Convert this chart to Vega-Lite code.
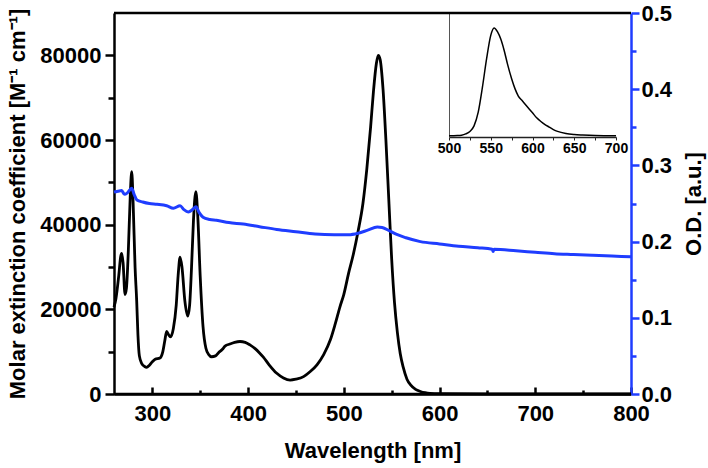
{
  "$schema": "https://vega.github.io/schema/vega-lite/v6.json",
  "width": 517,
  "height": 381,
  "autosize": "none",
  "padding": {"left": 114, "top": 13, "right": 77, "bottom": 74},
  "background": "white",
  "config": {
    "view": {"stroke": null},
    "axis": {"grid": false, "labelFont": "Liberation Sans", "titleFont": "Liberation Sans", "labelFontWeight": "bold", "titleFontWeight": "bold", "labelColor": "black", "titleColor": "black"}
  },
  "datasets": {
    "abs": [
      {"wl": 260, "eps": 20500}, {"wl": 262, "eps": 22500}, {"wl": 265, "eps": 28000}, {"wl": 267, "eps": 32500}, {"wl": 268, "eps": 33200},
      {"wl": 269.5, "eps": 31000}, {"wl": 271.5, "eps": 23500}, {"wl": 273, "eps": 25000}, {"wl": 275, "eps": 34000}, {"wl": 277, "eps": 47000},
      {"wl": 278.5, "eps": 52500}, {"wl": 280, "eps": 45000}, {"wl": 282, "eps": 30000}, {"wl": 283.7, "eps": 22000}, {"wl": 285, "eps": 14000},
      {"wl": 286.5, "eps": 9000}, {"wl": 289, "eps": 7200}, {"wl": 292, "eps": 6500}, {"wl": 294, "eps": 6300}, {"wl": 297, "eps": 6800},
      {"wl": 300, "eps": 7600}, {"wl": 303, "eps": 8200}, {"wl": 308, "eps": 8500}, {"wl": 311, "eps": 10000}, {"wl": 313, "eps": 12500},
      {"wl": 315, "eps": 14800}, {"wl": 317, "eps": 14000}, {"wl": 319, "eps": 13500}, {"wl": 322, "eps": 15500}, {"wl": 325, "eps": 21000},
      {"wl": 327, "eps": 28000}, {"wl": 329, "eps": 32300}, {"wl": 331, "eps": 30000}, {"wl": 334, "eps": 22000}, {"wl": 337, "eps": 18400},
      {"wl": 339, "eps": 21000}, {"wl": 341, "eps": 30000}, {"wl": 343, "eps": 41000}, {"wl": 345.5, "eps": 47800}, {"wl": 347.5, "eps": 42000},
      {"wl": 350, "eps": 28000}, {"wl": 353, "eps": 15900}, {"wl": 356, "eps": 10800}, {"wl": 359, "eps": 9300}, {"wl": 362, "eps": 8800},
      {"wl": 366, "eps": 9000}, {"wl": 369, "eps": 9700}, {"wl": 373, "eps": 10500}, {"wl": 376, "eps": 11300}, {"wl": 381, "eps": 11800},
      {"wl": 386, "eps": 12200}, {"wl": 391.6, "eps": 12400}, {"wl": 397, "eps": 12200}, {"wl": 402, "eps": 11600}, {"wl": 408, "eps": 10600},
      {"wl": 412, "eps": 9700}, {"wl": 416, "eps": 8700}, {"wl": 422, "eps": 6900}, {"wl": 430, "eps": 4900}, {"wl": 437, "eps": 3800},
      {"wl": 444, "eps": 3300}, {"wl": 450, "eps": 3500}, {"wl": 458, "eps": 4100}, {"wl": 465, "eps": 5300}, {"wl": 472, "eps": 6900},
      {"wl": 479, "eps": 9300}, {"wl": 486, "eps": 12800}, {"wl": 491, "eps": 16500}, {"wl": 496, "eps": 20600}, {"wl": 500, "eps": 23500},
      {"wl": 505, "eps": 28500}, {"wl": 510, "eps": 33000}, {"wl": 515, "eps": 38500}, {"wl": 520, "eps": 45000}, {"wl": 524, "eps": 53000},
      {"wl": 528, "eps": 63000}, {"wl": 531, "eps": 71500}, {"wl": 534, "eps": 78000}, {"wl": 536, "eps": 80000}, {"wl": 538, "eps": 79000},
      {"wl": 541, "eps": 72000}, {"wl": 544, "eps": 60000}, {"wl": 547, "eps": 46000}, {"wl": 550, "eps": 32000}, {"wl": 553, "eps": 21500},
      {"wl": 556, "eps": 14500}, {"wl": 559, "eps": 9500}, {"wl": 562, "eps": 6400}, {"wl": 566, "eps": 3500}, {"wl": 570, "eps": 2100},
      {"wl": 575, "eps": 1100}, {"wl": 580, "eps": 600}, {"wl": 585, "eps": 300}, {"wl": 590, "eps": 150}, {"wl": 600, "eps": 80},
      {"wl": 650, "eps": 50}, {"wl": 700, "eps": 30}, {"wl": 750, "eps": 20}, {"wl": 800, "eps": 0}
    ],
    "od": [
      {"wl": 260, "od": 0.265}, {"wl": 264, "od": 0.266}, {"wl": 268, "od": 0.267}, {"wl": 271, "od": 0.262}, {"wl": 274, "od": 0.264},
      {"wl": 278.5, "od": 0.27}, {"wl": 281, "od": 0.262}, {"wl": 284, "od": 0.2546}, {"wl": 290, "od": 0.252}, {"wl": 297, "od": 0.25},
      {"wl": 305, "od": 0.249}, {"wl": 315, "od": 0.247}, {"wl": 322, "od": 0.2437}, {"wl": 329, "od": 0.247}, {"wl": 333, "od": 0.242},
      {"wl": 337.6, "od": 0.239}, {"wl": 342, "od": 0.242}, {"wl": 345.6, "od": 0.2458}, {"wl": 349, "od": 0.238}, {"wl": 353, "od": 0.232},
      {"wl": 360, "od": 0.229}, {"wl": 367, "od": 0.228}, {"wl": 380, "od": 0.225}, {"wl": 395, "od": 0.223}, {"wl": 412, "od": 0.2196},
      {"wl": 430, "od": 0.216}, {"wl": 450, "od": 0.213}, {"wl": 470, "od": 0.21}, {"wl": 490, "od": 0.209}, {"wl": 505, "od": 0.209},
      {"wl": 515, "od": 0.211}, {"wl": 525, "od": 0.215}, {"wl": 535, "od": 0.219}, {"wl": 540, "od": 0.2185}, {"wl": 548, "od": 0.214},
      {"wl": 556, "od": 0.209}, {"wl": 565, "od": 0.205}, {"wl": 580, "od": 0.2}, {"wl": 600, "od": 0.197}, {"wl": 620, "od": 0.194},
      {"wl": 640, "od": 0.192}, {"wl": 655, "od": 0.19}, {"wl": 656, "od": 0.187}, {"wl": 657, "od": 0.19}, {"wl": 680, "od": 0.188},
      {"wl": 700, "od": 0.186}, {"wl": 720, "od": 0.184}, {"wl": 740, "od": 0.183}, {"wl": 760, "od": 0.182}, {"wl": 780, "od": 0.181},
      {"wl": 800, "od": 0.18}
    ],
    "em": [
      {"wl": 500, "v": 0.01}, {"wl": 510, "v": 0.012}, {"wl": 515, "v": 0.015}, {"wl": 520, "v": 0.025}, {"wl": 525, "v": 0.045},
      {"wl": 530, "v": 0.09}, {"wl": 535, "v": 0.2}, {"wl": 540, "v": 0.4}, {"wl": 545, "v": 0.63}, {"wl": 550, "v": 0.82},
      {"wl": 554, "v": 0.88}, {"wl": 558, "v": 0.85}, {"wl": 562, "v": 0.79}, {"wl": 566, "v": 0.7}, {"wl": 570, "v": 0.59},
      {"wl": 575, "v": 0.47}, {"wl": 579, "v": 0.39}, {"wl": 583, "v": 0.33}, {"wl": 588, "v": 0.29}, {"wl": 593, "v": 0.25},
      {"wl": 600, "v": 0.195}, {"wl": 605, "v": 0.155}, {"wl": 610, "v": 0.125}, {"wl": 615, "v": 0.1}, {"wl": 620, "v": 0.08},
      {"wl": 625, "v": 0.06}, {"wl": 630, "v": 0.045}, {"wl": 640, "v": 0.028}, {"wl": 650, "v": 0.02}, {"wl": 660, "v": 0.016},
      {"wl": 675, "v": 0.012}, {"wl": 700, "v": 0.01}
    ]
  },
  "resolve": {"scale": {"x": "independent", "y": "independent"}},
  "layer": [
    {
      "data": {"name": "abs"},
      "mark": {"type": "line", "color": "black", "strokeWidth": 2.8, "interpolate": "monotone"},
      "encoding": {
        "x": {"field": "wl", "type": "quantitative", "scale": {"domain": [260, 800], "nice": false, "zero": false},
          "axis": {"orient": "bottom", "values": [300, 400, 500, 600, 700, 800], "format": "d", "title": "Wavelength [nm]", "tickSize": -7, "tickWidth": 2.5, "tickColor": "black", "domainColor": "black", "domainWidth": 2.5, "labelFontSize": 22, "labelPadding": 16, "labelFlush": false, "titleFontSize": 22, "titlePadding": 16}},
        "y": {"field": "eps", "type": "quantitative", "scale": {"domain": [0, 90000], "nice": false},
          "axis": {"orient": "left", "values": [0, 20000, 40000, 60000, 80000], "format": "d", "title": "Molar extinction coefficient [M⁻¹ cm⁻¹]", "tickSize": 9, "tickWidth": 2.5, "tickColor": "black", "domainColor": "black", "domainWidth": 2.5, "labelFontSize": 22, "labelPadding": 4, "titleFontSize": 22, "titlePadding": 10}}
      }
    },
    {
      "data": {"name": "od"},
      "mark": {"type": "line", "color": "#1f3dff", "strokeWidth": 3, "interpolate": "monotone"},
      "encoding": {
        "x": {"field": "wl", "type": "quantitative", "scale": {"domain": [260, 800], "nice": false, "zero": false}, "axis": null},
        "y": {"field": "od", "type": "quantitative", "scale": {"domain": [0, 0.5], "nice": false},
          "axis": {"orient": "right", "values": [0, 0.1, 0.2, 0.3, 0.4, 0.5], "format": ".1f", "title": "O.D. [a.u.]", "titleAngle": -90, "titleBaseline": "top", "tickSize": 8, "tickWidth": 2.5, "tickColor": "#1f3dff", "domainColor": "#1f3dff", "domainWidth": 2.5, "labelFontSize": 22, "labelPadding": 2, "titleFontSize": 22, "titlePadding": 12}}
      }
    },
    {
      "data": {"values": [{}]},
      "mark": {"type": "rule", "color": "black", "strokeWidth": 2.5},
      "encoding": {
        "x": {"datum": 260, "type": "quantitative", "scale": {"domain": [260, 800], "nice": false, "zero": false}, "axis": null},
        "x2": {"datum": 800},
        "y": {"datum": 0.5, "type": "quantitative", "scale": {"domain": [0, 0.5], "nice": false},
          "axis": {"orient": "right", "values": [0.05, 0.15, 0.25, 0.35, 0.45], "labels": false, "domain": false, "title": null, "tickSize": 5, "tickWidth": 2.5, "tickColor": "#1f3dff"}}
      }
    },
    {
      "data": {"values": [{}]},
      "mark": {"type": "rule", "color": "black", "strokeWidth": 2.5},
      "encoding": {
        "x": {"datum": 260, "type": "quantitative", "scale": {"domain": [260, 800], "nice": false, "zero": false},
          "axis": {"orient": "bottom", "values": [350, 450, 550, 650, 750], "labels": false, "domain": false, "title": null, "tickSize": -4, "tickWidth": 2.5, "tickColor": "black"}},
        "x2": {"datum": 800},
        "y": {"datum": 0, "type": "quantitative", "scale": {"domain": [0, 90000], "nice": false},
          "axis": {"orient": "left", "values": [10000, 30000, 50000, 70000], "labels": false, "domain": false, "title": null, "tickSize": 6, "tickWidth": 2.5, "tickColor": "black"}}
      }
    },
    {
      "data": {"name": "em"},
      "mark": {"type": "line", "color": "black", "strokeWidth": 1.5, "interpolate": "monotone"},
      "encoding": {
        "x": {"field": "wl", "type": "quantitative", "scale": {"domain": [500, 700], "range": [335, 502], "nice": false, "zero": false},
          "axis": {"orient": "bottom", "offset": -257, "values": [500, 525, 550, 575, 600, 625, 650, 675, 700], "format": "d", "labelExpr": "datum.value % 50 == 0 ? datum.label : ''", "title": null, "tickSize": 3, "tickWidth": 1, "tickColor": "#222", "domainColor": "#222", "domainWidth": 1.3, "labelFontSize": 14, "labelPadding": 1, "labelFlush": false}},
        "y": {"field": "v", "type": "quantitative", "scale": {"domain": [0, 1], "range": [124, 0], "nice": false},
          "axis": {"orient": "left", "offset": -335, "labels": false, "ticks": false, "title": null, "domainColor": "#555", "domainWidth": 1}}
      }
    }
  ]
}
